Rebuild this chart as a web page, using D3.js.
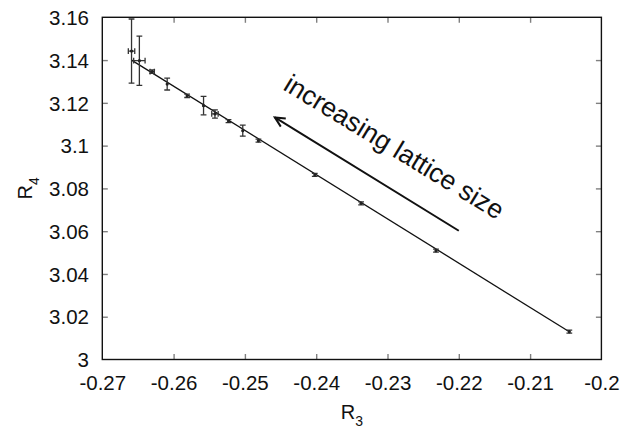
<!DOCTYPE html>
<html>
<head>
<meta charset="utf-8">
<script src="https://cdn.jsdelivr.net/npm/d3@7"></script>
<style>
html,body{margin:0;padding:0;background:#fff;}
svg{display:block;font-family:"Liberation Sans",Arial,Helvetica,sans-serif;}
</style>
</head>
<body>
<svg id="chart" width="641" height="427"></svg>
<script>
// ---- data ----
const r3 = [-0.2659, -0.2648, -0.2630, -0.2609, -0.2581, -0.2558, -0.2542, -0.2523, -0.2503, -0.2481, -0.2402, -0.2337, -0.2232, -0.2045];
const r4 = [3.1442, 3.1397, 3.1346, 3.1288, 3.1233, 3.1187, 3.1148, 3.1115, 3.1070, 3.1023, 3.0863, 3.0730, 3.0509, 3.0130];
const r3Err = [0.00045, 0.0008, 0.0003, 0, 0, 0, 0.00045, 0, 0, 0, 0, 0, 0, 0];
const r4Err = [0.0150, 0.0115, 0.0008, 0.0028, 0.0008, 0.0043, 0.0019, 0.0007, 0.0026, 0.0007, 0.0007, 0.0007, 0.0007, 0.0007];
const fitX = [-0.2659, -0.2045];
const fitY = [3.1400, 3.0130];
const xTicks = [-0.27, -0.26, -0.25, -0.24, -0.23, -0.22, -0.21, -0.20];
const xTickLabels = ["-0.27", "-0.26", "-0.25", "-0.24", "-0.23", "-0.22", "-0.21", "-0.2"];
const yTicks = [3.00, 3.02, 3.04, 3.06, 3.08, 3.10, 3.12, 3.14, 3.16];
const yTickLabels = ["3", "3.02", "3.04", "3.06", "3.08", "3.1", "3.12", "3.14", "3.16"];
const arrowFrom = [-0.2200, 3.0602];
const arrowTo = [-0.2458, 3.1132];
const annotText = "increasing lattice size";
const annotPos = [-0.2448, 3.1265];
const annotAngle = 31.4;

// ---- layout ----
const W = 641, H = 427;
const m = {left: 102.3, right: W - 601.4, top: 17.3, bottom: H - 359.5};
const svg = d3.select("#chart");
const x = d3.scaleLinear().domain([-0.27, -0.20]).range([m.left, W - m.right]);
const y = d3.scaleLinear().domain([3.0, 3.16]).range([H - m.bottom, m.top]);
const pw = W - m.left - m.right, ph = H - m.top - m.bottom;

svg.append("defs").append("clipPath").attr("id", "clip")
  .append("rect").attr("x", m.left).attr("y", m.top).attr("width", pw).attr("height", ph);

const tickLen = 5.5;
const tickColor = "#808080";
const gB = svg.append("g").attr("transform", `translate(0,${H - m.bottom})`)
  .call(d3.axisBottom(x).tickValues(xTicks).tickSize(-tickLen).tickPadding(15.5)
    .tickFormat((d, i) => xTickLabels[i]));
const gT = svg.append("g").attr("transform", `translate(0,${m.top})`)
  .call(d3.axisTop(x).tickValues(xTicks).tickSize(-tickLen).tickFormat(""));
const gL = svg.append("g").attr("transform", `translate(${m.left},0)`)
  .call(d3.axisLeft(y).tickValues(yTicks).tickSize(-tickLen).tickPadding(13.3)
    .tickFormat((d, i) => yTickLabels[i]));
const gR = svg.append("g").attr("transform", `translate(${W - m.right},0)`)
  .call(d3.axisRight(y).tickValues(yTicks).tickSize(-tickLen).tickFormat(""));

[gB, gT, gL, gR].forEach(g => {
  g.select(".domain").remove();
  g.selectAll(".tick line").attr("stroke", tickColor).attr("stroke-width", 1.4);
  g.selectAll(".tick text").attr("fill", "#111").style("font-size", "20.5px")
    .style("font-family", "'Liberation Sans', Arial, sans-serif");
});
gB.selectAll(".tick").filter((d, i) => i === 0 || i === xTicks.length - 1).select("line").remove();
gT.selectAll(".tick").filter((d, i) => i === 0 || i === xTicks.length - 1).select("line").remove();
gL.selectAll(".tick").filter((d, i) => i === 0 || i === yTicks.length - 1).select("line").remove();
gR.selectAll(".tick").filter((d, i) => i === 0 || i === yTicks.length - 1).select("line").remove();
gL.selectAll(".tick text").attr("dy", "0.35em");
gB.selectAll(".tick text").attr("dy", "0.71em");

// frame
svg.append("rect").attr("x", m.left).attr("y", m.top).attr("width", pw).attr("height", ph)
  .attr("fill", "none").attr("stroke", "#111").attr("stroke-width", 1.4);

// axis titles
const xt = svg.append("text").attr("x", (m.left + W - m.right) / 2).attr("y", 418.5)
  .attr("text-anchor", "middle").attr("fill", "#111").style("font-size", "20px");
xt.append("tspan").text("R");
xt.append("tspan").attr("dy", 7).style("font-size", "14px").text("3");

const yt = svg.append("text").attr("transform", `translate(32,${(m.top + H - m.bottom) / 2}) rotate(-90)`)
  .attr("text-anchor", "middle").attr("fill", "#111").style("font-size", "20px");
yt.append("tspan").text("R");
yt.append("tspan").attr("dy", 7).style("font-size", "14px").text("4");

// plot content
const plot = svg.append("g").attr("clip-path", "url(#clip)");
const pts = r3.map((v, i) => ({x: v, y: r4[i], ex: r3Err[i], ey: r4Err[i]}));
const cap = 2.9;
const ebColor = "#333";

plot.append("line")
  .attr("x1", x(fitX[0])).attr("y1", y(fitY[0]))
  .attr("x2", x(fitX[1])).attr("y2", y(fitY[1]))
  .attr("stroke", "#111").attr("stroke-width", 1.3);

const eb = plot.selectAll("g.eb").data(pts).join("g").attr("class", "eb")
  .attr("stroke", ebColor).attr("stroke-width", 1.3).attr("fill", "none");
eb.append("line").attr("x1", d => x(d.x)).attr("x2", d => x(d.x))
  .attr("y1", d => y(d.y - d.ey)).attr("y2", d => y(d.y + d.ey));
eb.append("line").attr("x1", d => x(d.x) - cap).attr("x2", d => x(d.x) + cap)
  .attr("y1", d => y(d.y - d.ey)).attr("y2", d => y(d.y - d.ey));
eb.append("line").attr("x1", d => x(d.x) - cap).attr("x2", d => x(d.x) + cap)
  .attr("y1", d => y(d.y + d.ey)).attr("y2", d => y(d.y + d.ey));
const ebx = eb.filter(d => d.ex > 0);
ebx.append("line").attr("y1", d => y(d.y)).attr("y2", d => y(d.y))
  .attr("x1", d => x(d.x - d.ex)).attr("x2", d => x(d.x + d.ex));
ebx.append("line").attr("y1", d => y(d.y) - cap).attr("y2", d => y(d.y) + cap)
  .attr("x1", d => x(d.x - d.ex)).attr("x2", d => x(d.x - d.ex));
ebx.append("line").attr("y1", d => y(d.y) - cap).attr("y2", d => y(d.y) + cap)
  .attr("x1", d => x(d.x + d.ex)).attr("x2", d => x(d.x + d.ex));
// small point markers
plot.selectAll("circle.pt").data(pts).join("circle").attr("class", "pt")
  .attr("cx", d => x(d.x)).attr("cy", d => y(d.y)).attr("r", 1.6).attr("fill", "#222");

// arrow
const ax1 = x(arrowFrom[0]), ay1 = y(arrowFrom[1]);
const ax2 = x(arrowTo[0]), ay2 = y(arrowTo[1]);
const ang = Math.atan2(ay2 - ay1, ax2 - ax1);
const hl = 11, ha = Math.PI / 7;
svg.append("line").attr("x1", ax1).attr("y1", ay1).attr("x2", ax2).attr("y2", ay2)
  .attr("stroke", "#111").attr("stroke-width", 2);
svg.append("path")
  .attr("d", `M${ax2 - hl * Math.cos(ang - ha)},${ay2 - hl * Math.sin(ang - ha)}L${ax2},${ay2}L${ax2 - hl * Math.cos(ang + ha)},${ay2 - hl * Math.sin(ang + ha)}`)
  .attr("fill", "none").attr("stroke", "#111").attr("stroke-width", 2);

// annotation
svg.append("text")
  .attr("transform", `translate(${x(annotPos[0])},${y(annotPos[1])}) rotate(${annotAngle})`)
  .attr("fill", "#111").style("font-size", "26.5px").text(annotText);
</script>
</body>
</html>
